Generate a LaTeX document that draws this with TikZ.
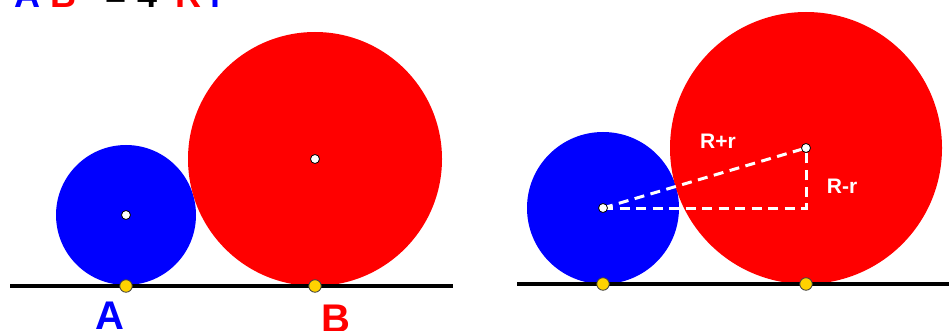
\documentclass[tikz,border=0pt]{standalone}
\usepackage{fontspec}
\setmainfont{Liberation Sans}
\usepackage{tikz}
\usetikzlibrary{calc}
\definecolor{cblue}{RGB}{0,0,255}
\definecolor{cred}{RGB}{255,0,0}
\definecolor{cgold}{RGB}{255,210,0}

\begin{document}
\begin{tikzpicture}[x=1pt,y=-1pt,font=\bfseries,
  cdot/.style={circle,draw=black,fill=white,line width=.8pt,inner sep=0pt,minimum size=9pt},
  tdot/.style={circle,draw=black!75,fill=cgold,line width=.8pt,inner sep=0pt,minimum size=12.5pt},
  wlab/.style={text=white,font=\bfseries\fontsize{21}{21}\selectfont},
  wdash/.style={white,line width=3pt,dash pattern=on 10pt off 6.5pt}]
 \useasboundingbox (0,0) rectangle (949,331);
 % formula, cut off at the top edge
 \node[anchor=base west,inner sep=0pt,font=\bfseries\fontsize{36}{36}\selectfont] (eq) at (14,8)
      {\textcolor{cblue}{A}\hspace{10pt}\textcolor{cred}{B}\textsuperscript{2}\hspace{15pt}=\hspace{11pt}4\hspace{18pt}\textcolor{cred}{R}\hspace{9pt}\textcolor{cblue}{r}};
 \begin{scope}
  \coordinate (ca) at (126,215);
  \coordinate (cb) at (315,159);
  \fill[cblue] (ca) circle[radius=70pt];
  \fill[cred] (cb) circle[radius=127pt];
  \draw[line width=3.5pt] (10,286) -- (453,286);
  \node[cdot] (oa) at (ca) {};
  \node[cdot] (ob) at (cb) {};
  \node[tdot] (ta) at (126,286) {};
  \node[tdot] (tb) at (315,286) {};
  \node[anchor=base,text=cblue,font=\bfseries\fontsize{40}{40}\selectfont] (la) at (110,329) {A};
  \node[anchor=base,text=cred,font=\bfseries\fontsize{40}{40}\selectfont] (lb) at (336,332) {B};
 \end{scope}
 \begin{scope}
  \coordinate (cc) at (603,208);
  \coordinate (cd) at (806,148);
  \coordinate (rc) at (806,208);
  \fill[cblue] (cc) circle[radius=76pt];
  \fill[cred] (cd) circle[radius=136pt];
  \draw[line width=3.5pt] (517,284) -- (949,284);
  \draw[wdash] (cc) -- (cd);
  \draw[wdash] (cc) -- (rc) -- (cd);
  \node[cdot] (oc) at (cc) {};
  \node[cdot] (od) at (cd) {};
  \node[tdot] (tc) at (603,284) {};
  \node[tdot] (td) at (806,284) {};
  \node[wlab] (sum) at (718,141) {R+r};
  \node[wlab] (dif) at (842,186) {R-r};
 \end{scope}
\end{tikzpicture}
\end{document}
